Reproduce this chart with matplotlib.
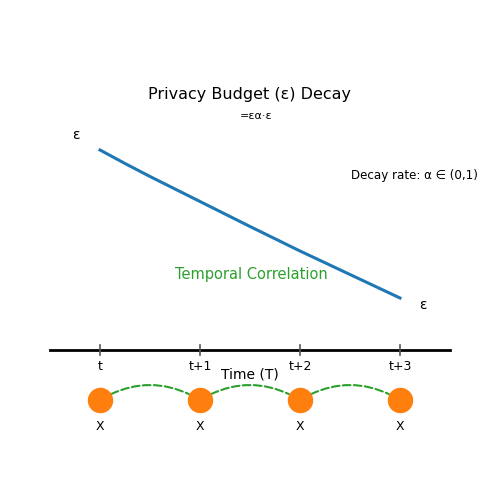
import matplotlib
matplotlib.use("Agg")
import matplotlib.pyplot as plt
from matplotlib.patches import FancyArrowPatch

time_pos = [0, 1, 2, 3]
time_labels = ["t", "t+1", "t+2", "t+3"]
node_labels = ["X", "X", "X", "X"]
decay_x = [0, 0.25, 0.5, 1, 1.5, 2, 2.5, 3]
decay_y = [2.0, 1.865, 1.735, 1.485, 1.235, 0.99, 0.755, 0.52]

fig = plt.figure(figsize=(5, 5), dpi=100)
ax = fig.add_axes([0, 0, 1, 1])
ax.set_xlim(-1, 4)
ax.set_ylim(-1.5, 3.5)
ax.axis("off")

ax.plot([-0.5, 3.5], [0, 0], color="black", lw=2)
for x, lab in zip(time_pos, time_labels):
    ax.plot([x, x], [-0.05, 0.05], color="#555555", lw=1.2)
    ax.text(x, -0.16, lab, ha="center", va="center", fontsize=9)
ax.text(1.5, -0.25, "Time (T)", ha="center", va="center", fontsize=10)

ax.plot(decay_x, decay_y, color="#1f77b4", lw=2.2, solid_joinstyle="round")

for a, b in zip(time_pos[:-1], time_pos[1:]):
    ax.add_patch(FancyArrowPatch((a, -0.5), (b, -0.5), connectionstyle="arc3,rad=-0.3",
                                 arrowstyle="-", color="#2ca02c", ls="--", lw=1.5,
                                 shrinkA=9, shrinkB=9, zorder=2))
ax.scatter(time_pos, [-0.5] * 4, s=300, color="#ff7f0e", zorder=3)
for x, lab in zip(time_pos, node_labels):
    ax.text(x, -0.76, lab, ha="center", va="center", fontsize=9)

ax.text(1.5, 2.55, "Privacy Budget (ε) Decay", ha="center", va="center", fontsize=11.5)
ax.text(1.56, 2.34, "=εα·ε", ha="center", va="center", fontsize=8)
ax.text(-0.24, 2.15, "ε", ha="center", va="center", fontsize=10)
ax.text(3.23, 0.45, "ε", ha="center", va="center", fontsize=10)
ax.text(3.14, 1.74, "Decay rate: α ∈ (0,1)", ha="center", va="center", fontsize=8.6)
ax.text(1.51, 0.75, "Temporal Correlation", ha="center", va="center", fontsize=10.5, color="#2ca02c")

fig.savefig("out.png", dpi=100)
